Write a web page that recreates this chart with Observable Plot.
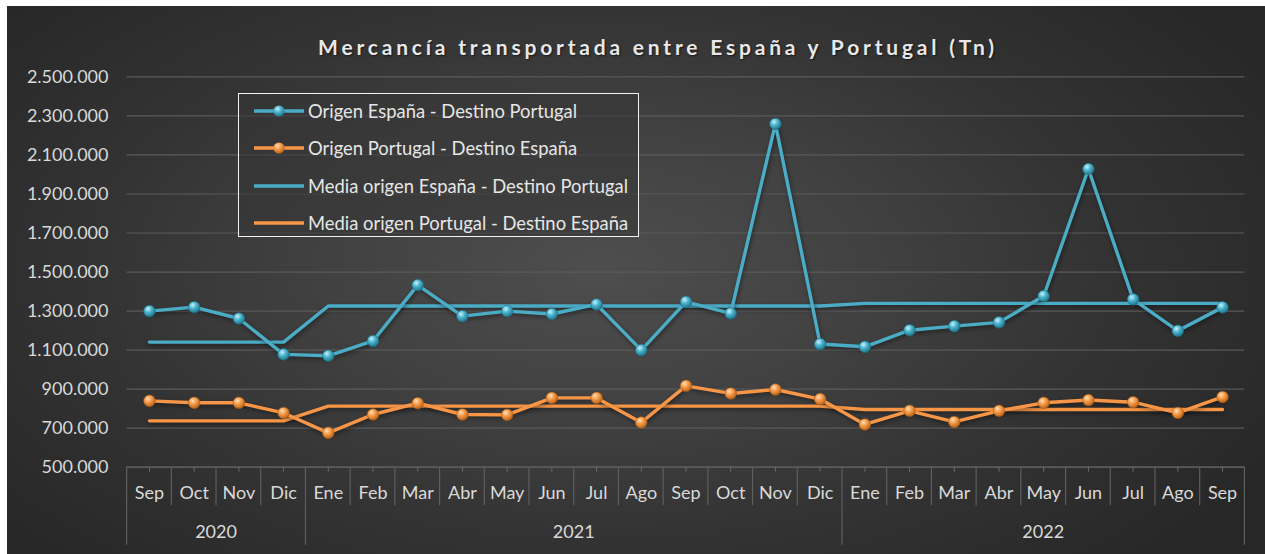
<!DOCTYPE html>
<html><head><meta charset="utf-8">
<script src="https://cdn.jsdelivr.net/npm/d3@7"></script>
<script src="https://cdn.jsdelivr.net/npm/@observablehq/plot@0.6"></script>
<style>
body{margin:0;background:#fff;}
#wrap{position:relative;width:1265px;height:554px;overflow:hidden;font-family:Lato,"Open Sans",sans-serif;}
#bg{position:absolute;left:7px;top:6px;width:1258px;height:548px;
 background:radial-gradient(ellipse 62% 75% at 47% 48%, #4e4e4e 0%, #414141 35%, #333333 65%, #272727 100%);}
#title{position:absolute;top:34px;left:658px;transform:translateX(-50%);white-space:nowrap;font-weight:700;font-size:21px;letter-spacing:3.8px;color:#e8e8e8;text-shadow:1px 1px 2px rgba(0,0,0,0.6);}
#chart{position:absolute;left:0;top:0;}
#chart svg text{fill:#d9d9d9;font-family:Lato,"Open Sans",sans-serif;}
#legend{position:absolute;left:238px;top:93px;width:399px;height:142px;border:1.5px solid #f2f2f2;background:rgba(52,52,52,0.55);}
.row{position:absolute;left:0;height:24px;display:flex;align-items:center;}
.row span{font-size:18.4px;color:#e6e6e6;white-space:nowrap;margin-left:3px;}
</style></head>
<body>
<div id="wrap">
  <div id="bg"></div>
  <div id="chart"></div>
  <div id="title">Mercancía transportada entre España y Portugal (Tn)</div>
  <div id="legend"></div>
</div>
<script>
// ---- data ----
const months = ["Sep","Oct","Nov","Dic","Ene","Feb","Mar","Abr","May","Jun","Jul","Ago","Sep","Oct","Nov","Dic","Ene","Feb","Mar","Abr","May","Jun","Jul","Ago","Sep"];
const years = ["2020","2020","2020","2020","2021","2021","2021","2021","2021","2021","2021","2021","2021","2021","2021","2021","2022","2022","2022","2022","2022","2022","2022","2022","2022"];
const origenEspana = [1300000,1320000,1262000,1078000,1071000,1147000,1433000,1274000,1300000,1285000,1334000,1100000,1347000,1288000,2259000,1131000,1117000,1202000,1223000,1242000,1377000,2028000,1360000,1199000,1319000];
const origenPortugal = [840000,830000,830000,778000,676000,770000,828000,770000,768000,855000,855000,729000,917000,878000,898000,849000,719000,789000,732000,789000,830000,844000,833000,778000,860000];
const mediaEspana = [1141000,1141000,1141000,1141000,1326000,1326000,1326000,1326000,1326000,1326000,1326000,1326000,1326000,1326000,1326000,1326000,1339500,1339500,1339500,1339500,1339500,1339500,1339500,1339500,1339500];
const mediaPortugal = [737500,737500,737500,737500,813000,813000,813000,813000,813000,813000,813000,813000,813000,813000,813000,813000,796000,796000,796000,796000,796000,796000,796000,796000,796000];
const yTicks = [500000,700000,900000,1100000,1300000,1500000,1700000,1900000,2100000,2300000,2500000];
const seriesNames = ["Origen España - Destino Portugal","Origen Portugal - Destino España","Media origen España - Destino Portugal","Media origen Portugal - Destino España"];
const BLUE = "#4BACC6", ORANGE = "#F79646";

const keys = months.map((m,i) => years[i] + "-" + i);
const rows = arr => keys.map((k,i) => ({key:k, v:arr[i]}));
const loc = d3.formatLocale({decimal:",", thousands:".", grouping:[3], currency:["",""]});
const fmt = loc.format(",d");

const plot = Plot.plot({
  width:1265, height:554,
  marginLeft:126.6, marginRight:20.6, marginTop:76.4, marginBottom:87.3,
  style:{background:"transparent", overflow:"visible"},
  x:{type:"point", domain:keys, padding:0.5, round:false},
  y:{domain:[500000,2500000]},
  marks:[
    Plot.gridY(yTicks, {stroke:"#5a5a5a", strokeOpacity:1, strokeWidth:1.2}),
    Plot.axisY(yTicks, {tickSize:0, tickPadding:18.6, tickFormat:fmt, fontSize:18, label:null}),
    Plot.ruleY([500000], {stroke:"#5e5e5e", strokeWidth:1.2}),
    Plot.axisX(keys, {tickSize:5, tickPadding:14, stroke:"#6a6a6a", fontSize:18, label:null, tickFormat:k => months[keys.indexOf(k)]}),
    Plot.lineY(rows(mediaEspana), {x:"key", y:"v", stroke:BLUE, strokeWidth:3.4}),
    Plot.lineY(rows(mediaPortugal), {x:"key", y:"v", stroke:ORANGE, strokeWidth:3.4}),
    Plot.lineY(rows(origenEspana), {x:"key", y:"v", stroke:BLUE, strokeWidth:3.4}),
    Plot.lineY(rows(origenPortugal), {x:"key", y:"v", stroke:ORANGE, strokeWidth:3.4}),
    Plot.dot(rows(origenEspana), {x:"key", y:"v", r:5.8, fill:"url(#gBlue)", stroke:"#1d6e84", strokeWidth:0.6}),
    Plot.dot(rows(origenPortugal), {x:"key", y:"v", r:5.8, fill:"url(#gOrange)", stroke:"#a95a16", strokeWidth:0.6})
  ]
});

const svg = d3.select(plot);
svg.selectAll("g[aria-label='line'] path").style("filter","drop-shadow(1px 2px 2px rgba(0,0,0,0.45))");
const defs = svg.insert("defs", ":first-child");
function grad(id, hi, mid, lo){
  const g = defs.append("radialGradient").attr("id",id).attr("cx","38%").attr("cy","32%").attr("r","70%");
  g.append("stop").attr("offset","0%").attr("stop-color",hi);
  g.append("stop").attr("offset","45%").attr("stop-color",mid);
  g.append("stop").attr("offset","100%").attr("stop-color",lo);
}
grad("gBlue","#c9f1fb","#4bb3cd","#1f7489");
grad("gOrange","#ffe0b8","#f59a48","#b8621a");

// category separators and year groups, positioned via the plot's own scales
const sx = plot.scale("x"), sy = plot.scale("y");
const step = sx.apply(keys[1]) - sx.apply(keys[0]);
const yBase = sy.apply(500000);
const bounds = keys.map(k => sx.apply(k) - step/2).concat([sx.apply(keys[keys.length-1]) + step/2]);
const yearStarts = [0];
for (let i=1;i<years.length;i++) if (years[i]!==years[i-1]) yearStarts.push(i);
yearStarts.push(years.length);
const g = svg.append("g").attr("stroke","#5e5e5e").attr("stroke-width",1.2);
bounds.forEach((bx,i) => {
  const isYear = yearStarts.includes(i);
  g.append("line").attr("x1",bx).attr("x2",bx).attr("y1",yBase).attr("y2",yBase + (isYear ? 78 : 38.5));
});
const tg = svg.append("g").attr("font-size",18).attr("text-anchor","middle");
for (let j=0;j<yearStarts.length-1;j++){
  const cx = (bounds[yearStarts[j]] + bounds[yearStarts[j+1]])/2;
  tg.append("text").attr("x",cx).attr("y",yBase+71).text(years[yearStarts[j]]);
}
document.getElementById("chart").append(plot);

// legend
const legend = d3.select("#legend");
const legendTops = [5, 42, 80, 117];
seriesNames.forEach((name,i) => {
  const color = i % 2 === 0 ? BLUE : ORANGE;
  const row = legend.append("div").attr("class","row").style("top", legendTops[i]+"px").style("left","14px");
  const s = row.append("svg").attr("width",52).attr("height",24);
  const sd = s.append("defs");
  const gr = sd.append("radialGradient").attr("id","lg"+i).attr("cx","38%").attr("cy","32%").attr("r","70%");
  const cols = i%2===0 ? ["#c9f1fb","#4bb3cd","#1f7489"] : ["#ffe0b8","#f59a48","#b8621a"];
  cols.forEach((c,j)=>gr.append("stop").attr("offset",[0,45,100][j]+"%").attr("stop-color",c));
  s.append("line").attr("x1",1).attr("x2",51).attr("y1",12).attr("y2",12).attr("stroke",color).attr("stroke-width",3.4);
  if (i < 2) s.append("circle").attr("cx",26).attr("cy",12).attr("r",5.6).attr("fill","url(#lg"+i+")");
  row.append("span").text(name);
});
</script>
</body></html>
